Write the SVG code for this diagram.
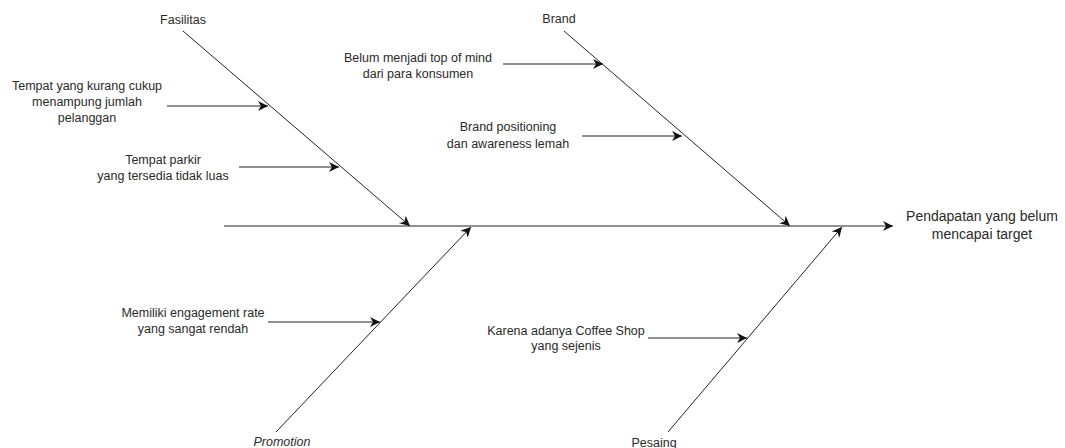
<svg xmlns="http://www.w3.org/2000/svg" width="1065" height="448" viewBox="0 0 1065 448">
<style>
text{font-family:"Liberation Sans",Arial,sans-serif;font-size:12.5px;fill:#2a2a2a;text-anchor:middle}
.l{stroke:#222;stroke-width:1;fill:none}
.a{marker-end:url(#ah)}
</style>
<defs>
<marker id="ah" markerUnits="userSpaceOnUse" markerWidth="11" markerHeight="10" refX="10" refY="5" orient="auto" viewBox="0 0 11 10">
<path d="M0,0 L10,5 L0,10 L3,5 z" fill="#111"/>
</marker>
</defs>
<rect width="1065" height="448" fill="#fff"/>
<g id="connectors">
<line class="l a" x1="224" y1="226" x2="893" y2="226"/>
<line class="l a" x1="183" y1="31" x2="410" y2="226"/>
<line class="l a" x1="564" y1="31" x2="790" y2="226"/>
<line class="l a" x1="276" y1="432" x2="471" y2="227"/>
<line class="l a" x1="668" y1="432" x2="842" y2="227"/>
<line class="l a" x1="167" y1="106" x2="268" y2="106"/>
<line class="l a" x1="239" y1="167" x2="339" y2="167"/>
<line class="l a" x1="503" y1="64" x2="603" y2="64"/>
<line class="l a" x1="582" y1="136" x2="682" y2="136"/>
<line class="l a" x1="268" y1="322" x2="380" y2="322"/>
<line class="l a" x1="648" y1="338" x2="747" y2="338"/>
</g>
<g id="result"><text x="982" y="221" style="font-size:14px">Pendapatan yang belum</text><text x="982" y="239" style="font-size:14px">mencapai target</text></g>
<g id="fasilitas"><text x="183" y="24">Fasilitas</text></g>
<g id="brand"><text x="559" y="23">Brand</text></g>
<g id="promotion"><text x="282" y="446" font-style="italic">Promotion</text></g>
<g id="pesaing"><text x="654" y="447">Pesaing</text></g>
<g id="c1"><text x="87" y="90">Tempat yang kurang cukup</text><text x="87" y="106">menampung jumlah</text><text x="87" y="122">pelanggan</text></g>
<g id="c2"><text x="163" y="164">Tempat parkir</text><text x="163" y="180">yang tersedia tidak luas</text></g>
<g id="c3"><text x="418" y="62">Belum menjadi top of mind</text><text x="418" y="78">dari para konsumen</text></g>
<g id="c4"><text x="508" y="131">Brand positioning</text><text x="508" y="148">dan awareness lemah</text></g>
<g id="c5"><text x="193" y="317">Memiliki engagement rate</text><text x="193" y="333">yang sangat rendah</text></g>
<g id="c6"><text x="566" y="335">Karena adanya Coffee Shop</text><text x="566" y="350">yang sejenis</text></g>
</svg>
